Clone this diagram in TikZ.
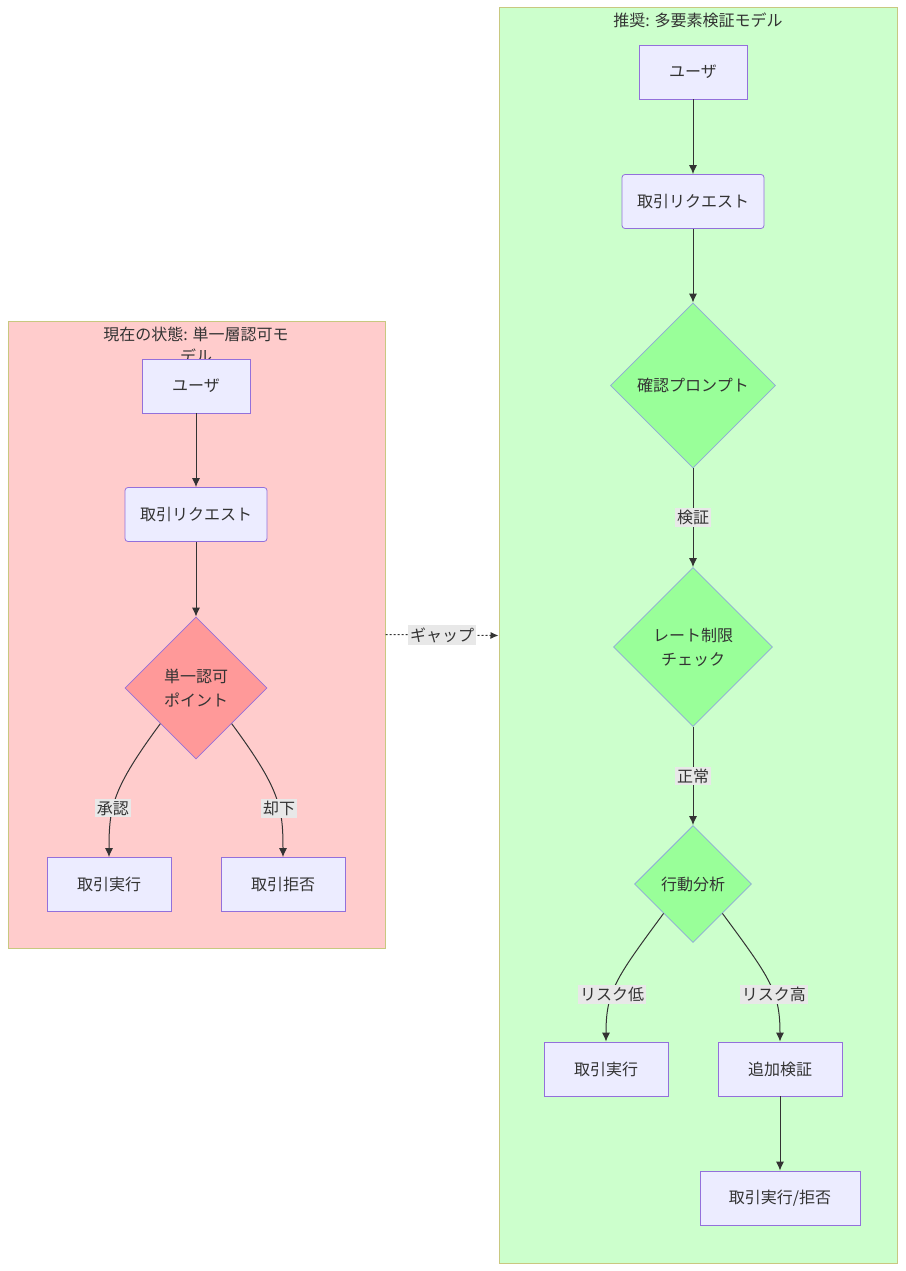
\documentclass[tikz,border=0pt]{standalone}
\usepackage{fontspec}
\setmainfont{Noto Sans CJK JP}
\usetikzlibrary{shapes.geometric,arrows.meta}
\definecolor{txt}{HTML}{333333}
\definecolor{nodefill}{HTML}{ECECFF}
\definecolor{nodeline}{HTML}{9370DB}
\definecolor{clusterline}{HTML}{C8C880}
\definecolor{curbg}{HTML}{FFCCCC}
\definecolor{recbg}{HTML}{CCFFCC}
\definecolor{reddia}{HTML}{FF9999}
\definecolor{greendia}{HTML}{99FF99}
\definecolor{greenline}{HTML}{8FA8D8}
\definecolor{lblbg}{HTML}{E8E8E8}

\begin{document}
\begin{tikzpicture}[x=1pt,y=-1pt,
  every node/.style={font=\fontsize{16}{24}\selectfont,text=txt},
  cluster/.style={draw=clusterline,line width=1pt,inner sep=0},
  box/.style={draw=nodeline,fill=nodefill,line width=0.8pt,minimum height=54,inner sep=0},
  reqbox/.style={box,rounded corners=3,minimum width=142},
  dia/.style={diamond,aspect=1,draw=nodeline,line width=0.8pt,inner sep=0,align=center},
  lbl/.style={fill=lblbg,inner sep=2pt,font=\fontsize{16}{20}\selectfont},
  edge/.style={draw=txt,line width=1pt,-{Latex[length=9pt,width=8pt]}}]
  \useasboundingbox (0,0) rectangle (905,1271);
  \node[cluster,fill=curbg,minimum width=377,minimum height=627] (cur) at (196.5,634.5) {};
  \node[cluster,fill=recbg,minimum width=398,minimum height=1255] (rec) at (698,635.5) {};
  \node[align=center,font=\fontsize{16}{22}\selectfont] (curtitle) at (196,345) {現在の状態: 単一層認可モ\\デル};
  \node (rectitle) at (698,20) {推奨: 多要素検証モデル};

  \node[box,minimum width=108] (user1) at (196,386) {ユーザ};
  \node[reqbox] (req1) at (196,514.5) {取引リクエスト};
  \node[dia,fill=reddia,minimum width=142,minimum height=142] (auth1) at (196,688) {単一認可\\ポイント};
  \node[box,minimum width=124] (exec1) at (109,884.5) {取引実行};
  \node[box,minimum width=124] (deny1) at (283,884.5) {取引拒否};

  \node[box,minimum width=108] (user2) at (693,72) {ユーザ};
  \node[reqbox] (req2) at (693,201.5) {取引リクエスト};
  \node[dia,fill=greendia,draw=greenline,minimum width=165,minimum height=165] (confirm) at (693,385.5) {確認プロンプト};
  \node[dia,fill=greendia,draw=greenline,minimum width=159,minimum height=159] (rate) at (693,647) {レート制限\\チェック};
  \node[dia,fill=greendia,draw=greenline,minimum width=117,minimum height=117] (behav) at (693,884) {行動分析};
  \node[box,minimum width=124] (exec2) at (606,1069) {取引実行};
  \node[box,minimum width=124] (extra) at (780,1069) {追加検証};
  \node[box,minimum width=160] (final) at (780,1198) {取引実行/拒否};

  \draw[edge] (user1) -- (req1);
  \draw[edge] (req1) -- (auth1);
  \draw[edge] (auth1.south west) .. controls +(-48,65) and +(0,-50) .. node[lbl,pos=0.61] {承認} (exec1.north);
  \draw[edge] (auth1.south east) .. controls +(48,65) and +(0,-50) .. node[lbl,pos=0.61] {却下} (deny1.north);

  \draw[edge] (user2) -- (req2);
  \draw[edge] (req2) -- (confirm);
  \draw[edge] (confirm) -- node[lbl] {検証} (rate);
  \draw[edge] (rate) -- node[lbl] {正常} (behav);
  \draw[edge] (behav.south west) .. controls +(-48,65) and +(0,-50) .. node[lbl,pos=0.61] {リスク低} (exec2.north);
  \draw[edge] (behav.south east) .. controls +(48,65) and +(0,-50) .. node[lbl,pos=0.61] {リスク高} (extra.north);
  \draw[edge] (extra) -- (final);

  \draw[draw=txt,line width=1pt,dash pattern=on 2pt off 2pt,-{Latex[length=8pt,width=7pt]}] (cur.east) -- node[lbl] {ギャップ} (rec.west);
\end{tikzpicture}
\end{document}
